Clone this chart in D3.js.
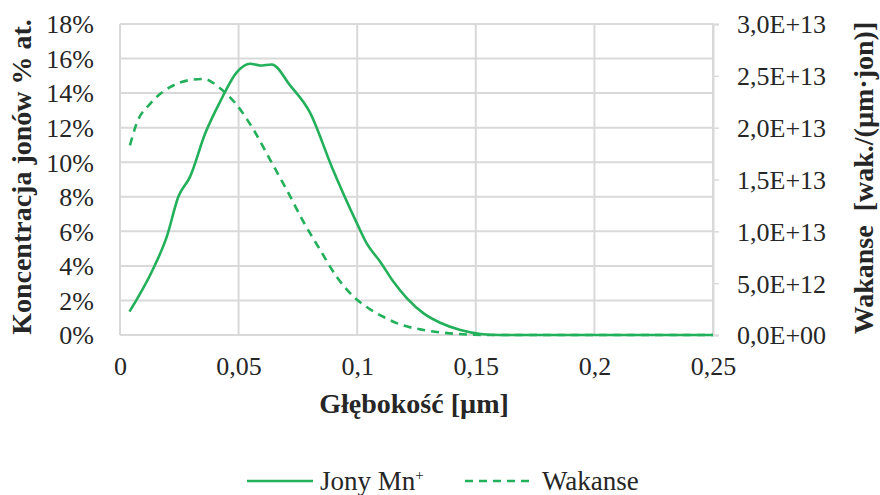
<!DOCTYPE html>
<html>
<head>
<meta charset="utf-8">
<script src="https://cdn.jsdelivr.net/npm/d3@7"></script>
<style>
  body { margin: 0; background: #fff; }
</style>
</head>
<body>
<div id="chart"></div>
<script>
// depth [um] and Mn+ concentration [% at.]
var ionDepth = [0.004, 0.0141, 0.0197, 0.0246, 0.0295, 0.0359, 0.0422, 0.0492, 0.0549, 0.059, 0.064, 0.0717, 0.080, 0.0893, 0.0996, 0.104, 0.1097, 0.1153, 0.121, 0.128, 0.135, 0.1435, 0.152, 0.16, 0.25];
var ionConc = [1.35, 3.86, 5.68, 8.0, 9.15, 11.66, 13.5, 15.2, 15.7, 15.6, 15.66, 14.45, 12.9, 9.73, 6.55, 5.3, 4.24, 3.08, 2.12, 1.25, 0.71, 0.29, 0.06, 0, 0];

// depth [um] and vacancies [wak./(um*jon)]
var vacDepth = [0.0042, 0.007, 0.0127, 0.0211, 0.0295, 0.0352, 0.0422, 0.0492, 0.0563, 0.0633, 0.0703, 0.0774, 0.0844, 0.0914, 0.0985, 0.104, 0.111, 0.118, 0.128, 0.139, 0.149, 0.16, 0.25];
var vacValue = [1.83e13, 2.04e13, 2.23e13, 2.39e13, 2.46e13, 2.47e13, 2.38e13, 2.22e13, 1.98e13, 1.69e13, 1.40e13, 1.09e13, 0.82e13, 0.56e13, 0.37e13, 0.27e13, 0.176e13, 0.103e13, 0.048e13, 0.016e13, 0.003e13, 0, 0];

var xTicks = [0, 0.05, 0.1, 0.15, 0.2, 0.25];
var leftTicks = [0, 2, 4, 6, 8, 10, 12, 14, 16, 18];
var rightTicks = [0, 5e12, 1e13, 1.5e13, 2e13, 2.5e13, 3e13];

var green = "#22b05a";
var grid = "#d9d9d9";
var serif = "'Liberation Serif', Tinos, 'Times New Roman', 'Noto Serif', 'DejaVu Serif', serif";

var margin = {top: 24, right: 167, bottom: 160, left: 120};
var W = 880, H = 495;
var width = W - margin.left - margin.right;
var height = H - margin.top - margin.bottom;

var svg = d3.select("#chart").append("svg")
    .attr("width", W)
    .attr("height", H);

var g = svg.append("g")
    .attr("transform", "translate(" + margin.left + "," + margin.top + ")");

var x = d3.scaleLinear().domain([0, 0.25]).range([0, width]);
var yL = d3.scaleLinear().domain([0, 18]).range([height, 0]);
var yR = d3.scaleLinear().domain([0, 3e13]).range([height, 0]);

// gridlines
g.append("g").selectAll("line")
    .data(leftTicks)
    .enter().append("line")
    .attr("x1", 0).attr("x2", width)
    .attr("y1", function(d) { return yL(d); })
    .attr("y2", function(d) { return yL(d); })
    .attr("stroke", grid).attr("stroke-width", 2);

g.append("g").selectAll("line")
    .data(xTicks)
    .enter().append("line")
    .attr("y1", 0).attr("y2", height)
    .attr("x1", function(d) { return x(d); })
    .attr("x2", function(d) { return x(d); })
    .attr("stroke", grid).attr("stroke-width", 2);

// left axis
var leftAxis = g.append("g")
    .call(d3.axisLeft(yL).tickValues(leftTicks).tickSize(0).tickPadding(26)
        .tickFormat(function(d) { return d + "%"; }));
leftAxis.select(".domain").remove();
leftAxis.selectAll("text").style("font-size", "26px").attr("dy", "0.34em");

// bottom axis
var bottomAxis = g.append("g")
    .attr("transform", "translate(0," + height + ")")
    .call(d3.axisBottom(x).tickValues(xTicks).tickSize(0).tickPadding(22)
        .tickFormat(function(d) { return String(d).replace(".", ","); }));
bottomAxis.select(".domain").remove();
bottomAxis.selectAll("text").style("font-size", "26px");

// right axis
function sciFmt(d) {
    var s = d.toExponential(1).split("e");
    var exp = s[1];
    var sign = exp[0];
    var num = exp.slice(1);
    if (num.length < 2) num = "0" + num;
    return s[0].replace(".", ",") + "E" + sign + num;
}
var rightAxis = g.append("g")
    .attr("transform", "translate(" + width + ",0)")
    .call(d3.axisRight(yR).tickValues(rightTicks).tickSize(6).tickPadding(18)
        .tickFormat(sciFmt));
rightAxis.select(".domain").attr("stroke", grid).attr("stroke-width", 2);
rightAxis.selectAll(".tick line").attr("stroke", grid).attr("stroke-width", 1.5);
rightAxis.selectAll("text").style("font-size", "26px").attr("dy", "0.34em");

// lines
var ionLine = d3.line()
    .x(function(d, i) { return x(ionDepth[i]); })
    .y(function(d) { return yL(d); })
    .curve(d3.curveMonotoneX);

var vacLine = d3.line()
    .x(function(d, i) { return x(vacDepth[i]); })
    .y(function(d) { return yR(d); })
    .curve(d3.curveMonotoneX);

g.append("path")
    .attr("d", vacLine(vacValue))
    .attr("fill", "none")
    .attr("stroke", green)
    .attr("stroke-width", 2.6)
    .attr("stroke-dasharray", "8,6");

g.append("path")
    .attr("d", ionLine(ionConc))
    .attr("fill", "none")
    .attr("stroke", green)
    .attr("stroke-width", 2.6);

// axis titles
svg.append("text")
    .attr("transform", "translate(" + 21 + "," + 177 + ") rotate(-90)")
    .attr("text-anchor", "middle")
    .attr("dominant-baseline", "central")
    .style("font-size", "28px")
    .style("font-weight", "bold")
    .text("Koncentracja jonów % at.");

svg.append("text")
    .attr("transform", "translate(" + 863 + "," + 178 + ") rotate(-90)")
    .attr("text-anchor", "middle")
    .attr("dominant-baseline", "central")
    .style("font-size", "28px")
    .style("font-weight", "bold")
    .style("white-space", "pre")
    .text("Wakanse  [wak./(µm·jon)]");

svg.append("text")
    .attr("x", 414)
    .attr("y", 413)
    .attr("text-anchor", "middle")
    .style("font-size", "28px")
    .style("font-weight", "bold")
    .text("Głębokość [µm]");

// legend
var legend = svg.append("g");
legend.append("line")
    .attr("x1", 247).attr("x2", 313).attr("y1", 481).attr("y2", 481)
    .attr("stroke", green).attr("stroke-width", 2.6);
var t1 = legend.append("text")
    .attr("x", 320).attr("y", 490)
    .style("font-size", "27px");
t1.append("tspan").text("Jony Mn");
t1.append("tspan").attr("dy", "-10").style("font-size", "15px").text("+");

legend.append("line")
    .attr("x1", 465).attr("x2", 530).attr("y1", 481).attr("y2", 481)
    .attr("stroke", green).attr("stroke-width", 2.6)
    .attr("stroke-dasharray", "8,6");
legend.append("text")
    .attr("x", 542).attr("y", 490)
    .style("font-size", "27px")
    .text("Wakanse");

// all text in a Times-like face
svg.selectAll("text")
    .style("font-family", serif)
    .style("fill", "#262626");
</script>
</body>
</html>
